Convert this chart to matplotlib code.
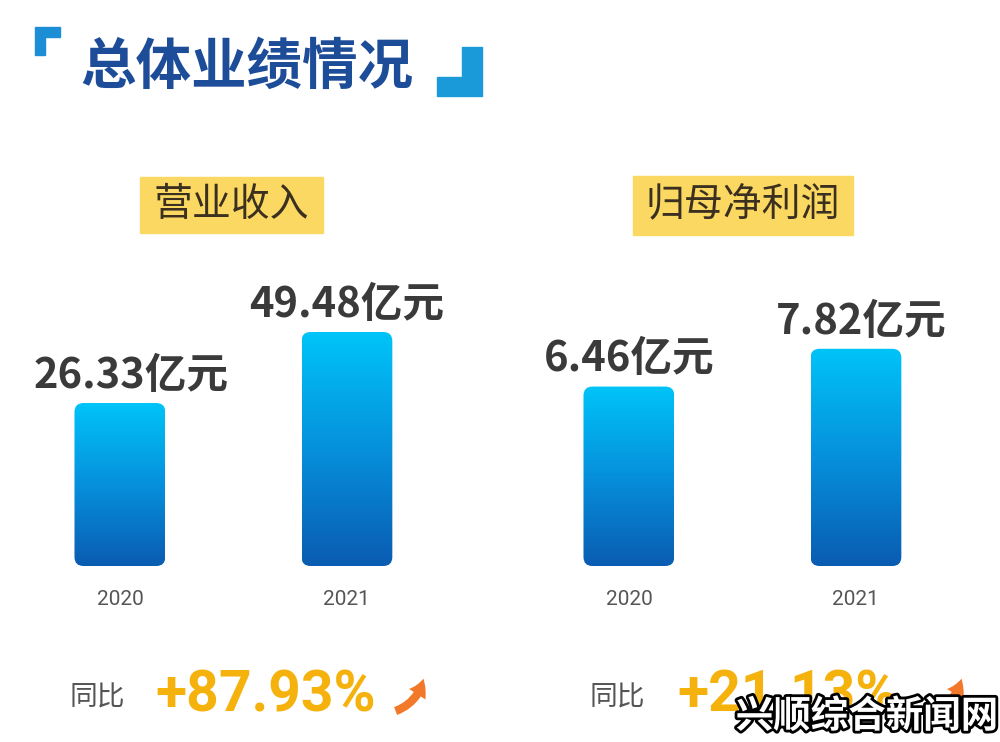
import numpy as np
import matplotlib
matplotlib.use("Agg")
import matplotlib.pyplot as plt
import matplotlib.patheffects as pe
from matplotlib.colors import LinearSegmentedColormap
from matplotlib.patches import FancyBboxPatch, Rectangle, Polygon, FancyArrowPatch

plt.rcParams['font.family'] = ['Noto Sans CJK SC', 'DejaVu Sans']
latin = ["Roboto", "DejaVu Sans"]

# data
title = "总体业绩情况"
years = ["2020", "2021"]
revenue = [26.33, 49.48]
net_profit = [6.46, 7.82]
panel_names = ["营业收入", "归母净利润"]
yoy = ["+87.93%", "+21.13%"]
unit = "亿元"
watermark = "兴顺综合新闻网"

W, H = 1000, 742
fig = plt.figure(figsize=(10, 7.42), dpi=100)
fig.patch.set_facecolor("white")


def fx(px):
    return px / W


def fy(py):
    return 1 - py / H


# title with corner marks
fig.text(fx(247), fy(68), title, fontsize=40, fontweight="bold", color="#1d4c98",
         ha="center", va="center")
fig.patches.append(Polygon([(fx(35), fy(27)), (fx(60), fy(27)), (fx(60), fy(37)),
                            (fx(45), fy(37)), (fx(45), fy(55)), (fx(35), fy(55))],
                           closed=True, transform=fig.transFigure, color="#1b8ed6"))
fig.patches.append(Polygon([(fx(462), fy(47)), (fx(482), fy(47)), (fx(482), fy(96)),
                            (fx(437), fy(96)), (fx(437), fy(77)), (fx(462), fy(77))],
                           closed=True, transform=fig.transFigure, color="#1a9ad9"))

cmap = LinearSegmentedColormap.from_list("bar", ["#0a5cb1", "#0690dc", "#00c4f8"])
grad = np.linspace(0, 1, 256).reshape(-1, 1)

# panel layout: (left px, ylim, label box, values, 同比 x, pct x, arrow x)
panels = [
    (20, (-26.8, 71.0), (140, 177, 323, 233), revenue, 70, 155, 410),
    (529, (0, 10.8), (633, 176, 853, 235), net_profit, 590, 677, 948),
]
label_dx = [[8, 0], [0, 4]]

for i, (left, ylim, box, vals, tx_x, pct_x, arr_x) in enumerate(panels):
    ax = fig.add_axes([fx(left), fy(566), fx(430), 300 / H])
    ax.set_xlim(-0.44, 1.454)
    ax.set_ylim(*ylim)
    bars = ax.bar(range(len(vals)), np.array(vals) - ylim[0], bottom=ylim[0], width=0.4)
    xu = 1.894 / 430
    yu = (ylim[1] - ylim[0]) / 300
    for j, (rect, v) in enumerate(zip(bars, vals)):
        x, y = rect.get_x(), rect.get_y()
        w, h = rect.get_width(), rect.get_height()
        rect.set_visible(False)
        clip = FancyBboxPatch((x, y), w, h, boxstyle=f"round,pad=0,rounding_size={9 * xu}",
                              mutation_aspect=yu / xu, facecolor="none", edgecolor="none")
        ax.add_patch(clip)
        im = ax.imshow(grad, cmap=cmap, extent=[x, x + w, y, y + h], origin="lower",
                       aspect="auto", zorder=2)
        im.set_clip_path(clip)
        ax.annotate(f"{v:.2f}{unit}", xy=(x + w / 2, y + h), xytext=(label_dx[i][j], 11),
                    textcoords="offset points", ha="center", va="baseline",
                    fontsize=30, fontweight="bold", color="#3a3a3a",
                    annotation_clip=False)
    ax.set_xlim(-0.44, 1.454)
    ax.set_ylim(*ylim)
    ax.set_xticks(range(len(years)))
    ax.set_xticklabels(years, fontsize=15, color="#555555", family=latin)
    ax.tick_params(axis="x", length=0, pad=17)
    ax.set_yticks([])
    for s in ax.spines.values():
        s.set_visible(False)
    ax.patch.set_alpha(0)

    # yellow label box
    x0, y0, x1, y1 = box
    fig.patches.append(Rectangle((fx(x0), fy(y1)), fx(x1 - x0), (y1 - y0) / H,
                                 transform=fig.transFigure, color="#fbd862", zorder=0))
    fig.text(fx((x0 + x1) / 2), fy((y0 + y1) / 2), panel_names[i], fontsize=28,
             color="#3b3020", ha="center", va="center")

    # yoy line
    fig.text(fx(tx_x), fy(697), "同比", fontsize=20, color="#555555", ha="left", va="center")
    fig.text(fx(pct_x), fy(696), yoy[i], fontsize=41, fontweight="bold", color="#f5b20c",
             ha="left", va="center", family=latin)
    fig.patches.append(FancyArrowPatch((fx(arr_x - 17), fy(712)), (fx(arr_x + 14), fy(676)),
                                       transform=fig.transFigure,
                                       connectionstyle="arc3,rad=0.3",
                                       arrowstyle="simple,head_width=14,head_length=12,tail_width=6",
                                       color="#f2782a", lw=0))

fig.text(fx(867), fy(716), watermark, fontsize=27, fontweight="bold", color="white",
         ha="center", va="center",
         path_effects=[pe.withStroke(linewidth=4, foreground="black")])

fig.savefig("out.png", dpi=100, facecolor="white")
